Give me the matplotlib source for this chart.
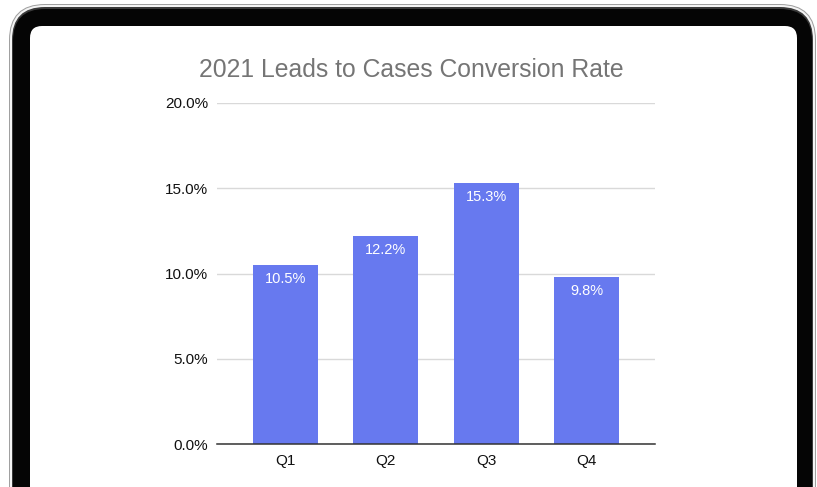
import matplotlib.pyplot as plt
from matplotlib.patches import FancyBboxPatch
from matplotlib.ticker import FuncFormatter

# data
quarters = ['Q1', 'Q2', 'Q3', 'Q4']
rates = [0.105, 0.122, 0.153, 0.098]
rate_labels = ['10.5%', '12.2%', '15.3%', '9.8%']
y_ticks = [0.0, 0.05, 0.10, 0.15, 0.20]

W, H = 817, 487
plt.rcParams['font.family'] = ['Liberation Sans', 'DejaVu Sans']

fig = plt.figure(figsize=(W / 100, H / 100), dpi=100)

# tablet frame drawn in pixel coordinates on a background axes
bg = fig.add_axes([0, 0, 1, 1])
bg.set_xlim(0, W)
bg.set_ylim(H, 0)
bg.axis('off')


def rounded(x0, y0, x1, y1, r, color):
    bg.add_patch(FancyBboxPatch((x0 + r, y0 + r), (x1 - x0) - 2 * r, (y1 - y0) - 2 * r,
                                boxstyle=f"round,pad={r}", fc=color, ec='none'))


rounded(9, 4, 816, 620, 36, '#a0a0a0')
rounded(10, 5, 815, 620, 35, '#f4f4f4')
rounded(12, 7, 813, 620, 33, '#3a3a3a')
rounded(13, 9, 812, 620, 32, '#050505')
rounded(30, 26, 797, 620, 12, 'white')

# chart
ax = fig.add_axes([217 / W, 1 - 444 / H, (655 - 217) / W, (444 - 103) / H])
ax.set_facecolor('none')
x = range(len(quarters))
ax.bar(x, rates, width=0.645, color='#6779EF', zorder=3)
for xi, v, lab in zip(x, rates, rate_labels):
    ax.annotate(lab, (xi, v), xytext=(0, -5), textcoords='offset points',
                ha='center', va='top', color='white', fontsize=10.5, zorder=4)

ax.set_xlim(-0.68, 3.68)
ax.set_ylim(0, 0.20)
ax.set_yticks(y_ticks)
ax.yaxis.set_major_formatter(FuncFormatter(lambda v, _: f"{v * 100:.1f}%"))
ax.set_xticks(list(x))
ax.set_xticklabels(quarters)
ax.tick_params(axis='both', length=0, labelsize=11, colors='#111111')
ax.tick_params(axis='y', pad=6.5)
ax.tick_params(axis='x', pad=7)
ax.grid(axis='y', color='#d9d9d9', linewidth=1, zorder=0)
for s in ['top', 'right', 'left']:
    ax.spines[s].set_visible(False)
ax.spines['bottom'].set_color('#333333')
ax.spines['bottom'].set_linewidth(1.1)
ax.spines['bottom'].set_zorder(5)

fig.text(411 / W, 1 - 70 / H, '2021 Leads to Cases Conversion Rate', ha='center', va='center',
         fontsize=17.8, color='#757575')

fig.savefig('out.png', dpi=100)
